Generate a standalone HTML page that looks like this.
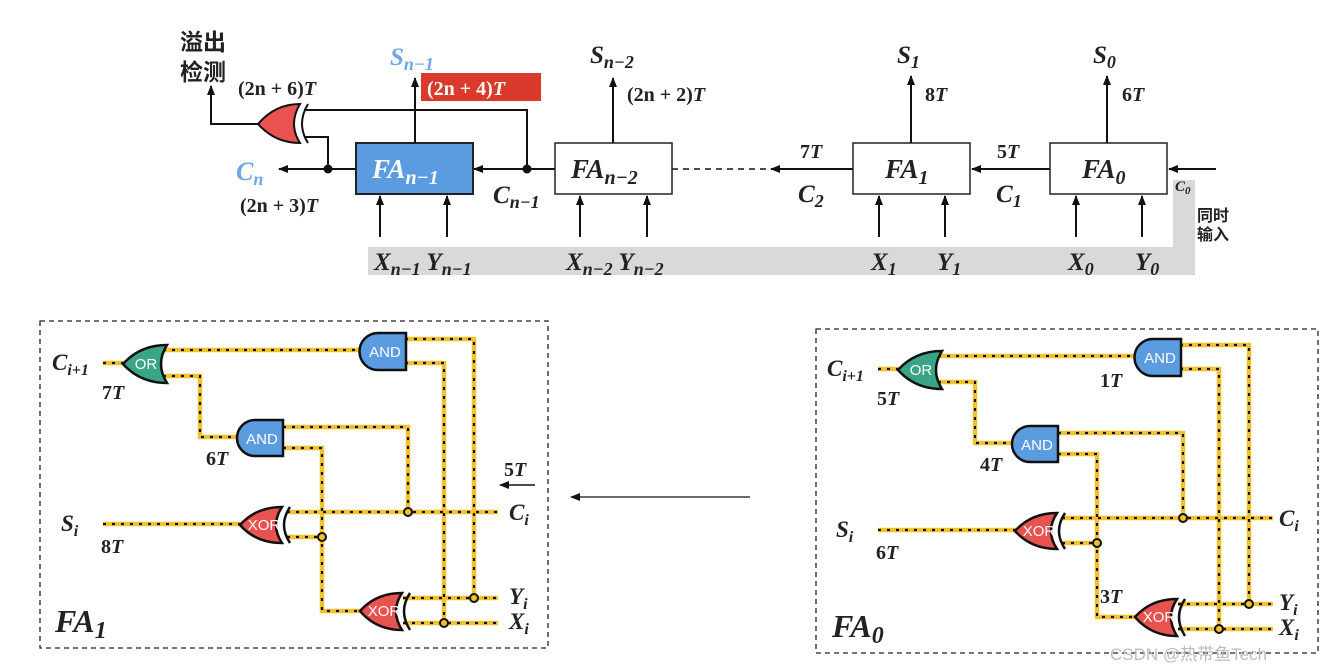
<!DOCTYPE html>
<html><head><meta charset="utf-8"><style>
html,body{margin:0;padding:0;background:#fff}
svg{display:block}
.m{font-family:"Liberation Serif",serif;font-weight:bold;font-style:italic;fill:#222}
.r{font-family:"Liberation Serif",serif;font-weight:bold;fill:#222}
.cn{font-family:"Liberation Sans","Noto Sans CJK SC",sans-serif;font-weight:bold;fill:#222}
.g{font-family:"Liberation Sans",sans-serif;fill:#fff;font-size:15px}
</style></head><body>
<svg width="1340" height="670" viewBox="0 0 1340 670" xmlns="http://www.w3.org/2000/svg">
<defs>
<marker id="ah" markerWidth="10" markerHeight="8" refX="9" refY="4" orient="auto" markerUnits="userSpaceOnUse"><path d="M0,0 L10,4 L0,8 Z" fill="#111"/></marker>
<g id="circ">
 <g fill="none" stroke="#f2c12e" stroke-width="4.5">
  <polyline points="103,363 127,363"/>
  <polyline points="163,350 362,350"/>
  <polyline points="163,376 200,376 200,437 240,437"/>
  <polyline points="405,339 474,339 474,598"/>
  <polyline points="405,363 444,363 444,623"/>
  <polyline points="283,427 408,427 408,511"/>
  <polyline points="283,448 322,448 322,611 362,611"/>
  <polyline points="103,524 243,524"/>
  <polyline points="287,512 498,512"/>
  <polyline points="287,537 322,537"/>
  <polyline points="403,598 498,598"/>
  <polyline points="403,623 498,623"/>
 </g>
 <g fill="none" stroke="#111" stroke-width="2.2" stroke-dasharray="3 6">
  <polyline points="103,363 127,363"/>
  <polyline points="163,350 362,350"/>
  <polyline points="163,376 200,376 200,437 240,437"/>
  <polyline points="405,339 474,339 474,598"/>
  <polyline points="405,363 444,363 444,623"/>
  <polyline points="283,427 408,427 408,511"/>
  <polyline points="283,448 322,448 322,611 362,611"/>
  <polyline points="103,524 243,524"/>
  <polyline points="287,512 498,512"/>
  <polyline points="287,537 322,537"/>
  <polyline points="403,598 498,598"/>
  <polyline points="403,623 498,623"/>
 </g>
 <g fill="#f2c12e" stroke="#111" stroke-width="2">
  <circle cx="408" cy="512" r="4"/><circle cx="322" cy="537" r="4"/>
  <circle cx="474" cy="598" r="4"/><circle cx="444" cy="623" r="4"/>
 </g>
 <g stroke="#111" stroke-width="2.5">
  <path d="M123,364 Q140,345 167,345 Q155,364 167,383 Q140,383 123,364 Z" fill="#3aa584"/>
  <path d="M406,333 L378,333 A18.5,18.5 0 0 0 378,370 L406,370 Z" fill="#5b9be0"/>
  <path d="M283,420 L255,420 A18,18 0 0 0 255,456 L283,456 Z" fill="#5b9be0"/>
  <path d="M240,525 Q256,507 282,507 Q270,525 282,543 Q256,543 240,525 Z" fill="#e8534f"/>
  <path d="M290,507 Q278,525 290,543" fill="none"/>
  <path d="M360,611 Q376,593 402,593 Q390,611 402,630 Q376,630 360,611 Z" fill="#e8534f"/>
  <path d="M410,593 Q398,611 410,630" fill="none"/>
 </g>
 <text class="g" x="146" y="369" text-anchor="middle">OR</text>
 <text class="g" x="385" y="357" text-anchor="middle" font-size="16">AND</text>
 <text class="g" x="262" y="444" text-anchor="middle" font-size="16">AND</text>
 <text class="g" x="264" y="530" text-anchor="middle" font-size="14">XOR</text>
 <text class="g" x="384" y="616" text-anchor="middle" font-size="14">XOR</text>
</g>
</defs>

<path d="M368,247 L1173,247 L1173,180 L1195,180 L1195,275 L368,275 Z" fill="#d9d9d9"/>

<text class="cn" x="180" y="50" font-size="23">溢出</text>
<text class="cn" x="180" y="80" font-size="23">检测</text>
<polyline points="258,124 211,124 211,86" fill="none" stroke="#111" stroke-width="2" marker-end="url(#ah)"/>
<path d="M258,124 Q275,104 300,104 Q288,124 300,143 Q275,143 258,124 Z" fill="#e8534f" stroke="#111" stroke-width="2"/>
<path d="M308,104 Q296,124 308,143" fill="none" stroke="#111" stroke-width="2"/>
<polyline points="304,110 527,110 527,169" fill="none" stroke="#111" stroke-width="2"/>
<polyline points="304,137 328,137 328,169" fill="none" stroke="#111" stroke-width="2"/>
<text class="r" x="238" y="95" font-size="20">(2n + 6)<tspan class="m">T</tspan></text>

<line x1="356" y1="169" x2="279" y2="169" stroke="#111" stroke-width="2" marker-end="url(#ah)"/>
<circle cx="328" cy="169" r="4.5" fill="#111"/>
<line x1="555" y1="169" x2="474" y2="169" stroke="#111" stroke-width="2" marker-end="url(#ah)"/>
<circle cx="527" cy="169" r="4.5" fill="#111"/>
<line x1="672" y1="169" x2="770" y2="169" stroke="#111" stroke-width="1.5" stroke-dasharray="6 5"/>
<line x1="853" y1="169" x2="771" y2="169" stroke="#111" stroke-width="2" marker-end="url(#ah)"/>
<line x1="1050" y1="169" x2="972" y2="169" stroke="#111" stroke-width="2" marker-end="url(#ah)"/>
<line x1="1216" y1="169" x2="1169" y2="169" stroke="#111" stroke-width="2" marker-end="url(#ah)"/>

<text class="m" x="236" y="180" font-size="26" style="fill:#6fa8e8">C<tspan font-size="18" dy="5">n</tspan></text>
<text class="r" x="240" y="212" font-size="20">(2n + 3)<tspan class="m">T</tspan></text>

<rect x="356" y="143" width="117" height="51" fill="#5b9be0" stroke="#222" stroke-width="2"/>
<text class="m" x="372" y="178" font-size="27" style="fill:#fff">FA<tspan font-size="20" dy="6">n−1</tspan></text>
<rect x="555" y="143" width="117" height="51" fill="#fff" stroke="#222" stroke-width="1.5"/>
<text class="m" x="571" y="178" font-size="27">FA<tspan font-size="20" dy="6">n−2</tspan></text>
<rect x="853" y="143" width="117" height="51" fill="#fff" stroke="#222" stroke-width="1.5"/>
<text class="m" x="885" y="178" font-size="27">FA<tspan font-size="20" dy="6">1</tspan></text>
<rect x="1050" y="143" width="117" height="51" fill="#fff" stroke="#222" stroke-width="1.5"/>
<text class="m" x="1082" y="178" font-size="27">FA<tspan font-size="20" dy="6">0</tspan></text>

<g stroke="#111" stroke-width="2" marker-end="url(#ah)">
<line x1="415" y1="143" x2="415" y2="78"/>
<line x1="613" y1="143" x2="613" y2="78"/>
<line x1="911" y1="143" x2="911" y2="76"/>
<line x1="1107" y1="143" x2="1107" y2="76"/>
<line x1="380" y1="237" x2="380" y2="196"/><line x1="447" y1="237" x2="447" y2="196"/>
<line x1="580" y1="237" x2="580" y2="196"/><line x1="647" y1="237" x2="647" y2="196"/>
<line x1="879" y1="237" x2="879" y2="196"/><line x1="945" y1="237" x2="945" y2="196"/>
<line x1="1076" y1="237" x2="1076" y2="196"/><line x1="1142" y1="237" x2="1142" y2="196"/>
</g>
<text class="m" x="390" y="65" font-size="25" style="fill:#6fa8e8">S<tspan font-size="18" dy="5">n−1</tspan></text>
<rect x="421" y="73" width="120" height="28" fill="#d93a2b"/>
<text class="r" x="427" y="95" font-size="20" style="fill:#fff">(2n + 4)<tspan font-style="italic">T</tspan></text>
<text class="m" x="590" y="63" font-size="25">S<tspan font-size="18" dy="5">n−2</tspan></text>
<text class="r" x="627" y="101" font-size="20">(2n + 2)<tspan class="m">T</tspan></text>
<text class="m" x="897" y="63" font-size="25">S<tspan font-size="18" dy="5">1</tspan></text>
<text class="r" x="925" y="101" font-size="20">8<tspan class="m">T</tspan></text>
<text class="m" x="1093" y="63" font-size="25">S<tspan font-size="18" dy="5">0</tspan></text>
<text class="r" x="1122" y="101" font-size="20">6<tspan class="m">T</tspan></text>

<text class="m" x="493" y="203" font-size="25">C<tspan font-size="18" dy="5">n−1</tspan></text>
<text class="r" x="800" y="158" font-size="20">7<tspan class="m">T</tspan></text>
<text class="m" x="798" y="202" font-size="25">C<tspan font-size="18" dy="5">2</tspan></text>
<text class="r" x="997" y="158" font-size="20">5<tspan class="m">T</tspan></text>
<text class="m" x="996" y="202" font-size="25">C<tspan font-size="18" dy="5">1</tspan></text>
<text class="m" x="1175" y="191" font-size="15">C<tspan font-size="11" dy="3">0</tspan></text>
<text class="cn" x="1197" y="221" font-size="16">同时</text>
<text class="cn" x="1197" y="240" font-size="16">输入</text>

<text class="m" x="374" y="270" font-size="25">X<tspan font-size="18" dy="5">n−1</tspan><tspan dy="-5" font-size="25"> Y</tspan><tspan font-size="18" dy="5">n−1</tspan></text>
<text class="m" x="566" y="270" font-size="25">X<tspan font-size="18" dy="5">n−2</tspan><tspan dy="-5" font-size="25"> Y</tspan><tspan font-size="18" dy="5">n−2</tspan></text>
<text class="m" x="871" y="270" font-size="25">X<tspan font-size="18" dy="5">1</tspan></text>
<text class="m" x="937" y="270" font-size="25">Y<tspan font-size="18" dy="5">1</tspan></text>
<text class="m" x="1068" y="270" font-size="25">X<tspan font-size="18" dy="5">0</tspan></text>
<text class="m" x="1135" y="270" font-size="25">Y<tspan font-size="18" dy="5">0</tspan></text>

<rect x="40" y="321" width="508" height="327" fill="none" stroke="#222" stroke-width="1.3" stroke-dasharray="5 4"/>
<use href="#circ"/>
<text class="m" x="52" y="370" font-size="23">C<tspan font-size="16" dy="5">i+1</tspan></text>
<text class="r" x="102" y="399" font-size="20">7<tspan class="m">T</tspan></text>
<text class="r" x="206" y="465" font-size="20">6<tspan class="m">T</tspan></text>
<text class="m" x="61" y="531" font-size="23">S<tspan font-size="16" dy="5">i</tspan></text>
<text class="r" x="101" y="553" font-size="20">8<tspan class="m">T</tspan></text>
<text class="r" x="504" y="476" font-size="20">5<tspan class="m">T</tspan></text>
<line x1="535" y1="485" x2="500" y2="485" stroke="#111" stroke-width="1.5" marker-end="url(#ah)"/>
<text class="m" x="509" y="520" font-size="23">C<tspan font-size="16" dy="5">i</tspan></text>
<text class="m" x="509" y="604" font-size="23">Y<tspan font-size="16" dy="5">i</tspan></text>
<text class="m" x="509" y="629" font-size="23">X<tspan font-size="16" dy="5">i</tspan></text>
<text class="m" x="55" y="632" font-size="32">FA<tspan font-size="24" dy="6">1</tspan></text>

<line x1="750" y1="497" x2="571" y2="497" stroke="#111" stroke-width="1.3" marker-end="url(#ah)"/>

<rect x="816" y="329" width="502" height="324" fill="none" stroke="#222" stroke-width="1.3" stroke-dasharray="5 4"/>
<use href="#circ" transform="translate(775,6)"/>
<text class="m" x="827" y="376" font-size="23">C<tspan font-size="16" dy="5">i+1</tspan></text>
<text class="r" x="877" y="405" font-size="20">5<tspan class="m">T</tspan></text>
<text class="r" x="1100" y="387" font-size="20">1<tspan class="m">T</tspan></text>
<text class="r" x="980" y="471" font-size="20">4<tspan class="m">T</tspan></text>
<text class="m" x="836" y="537" font-size="23">S<tspan font-size="16" dy="5">i</tspan></text>
<text class="r" x="876" y="559" font-size="20">6<tspan class="m">T</tspan></text>
<text class="r" x="1100" y="603" font-size="20">3<tspan class="m">T</tspan></text>
<text class="m" x="1279" y="526" font-size="23">C<tspan font-size="16" dy="5">i</tspan></text>
<text class="m" x="1279" y="610" font-size="23">Y<tspan font-size="16" dy="5">i</tspan></text>
<text class="m" x="1279" y="635" font-size="23">X<tspan font-size="16" dy="5">i</tspan></text>
<text class="m" x="832" y="637" font-size="32">FA<tspan font-size="24" dy="6">0</tspan></text>
<text x="1110" y="660" font-family="Liberation Sans,Noto Sans CJK SC,sans-serif" font-size="17" fill="#bbb">CSDN @热带鱼Tech</text>
</svg>
</body></html>
